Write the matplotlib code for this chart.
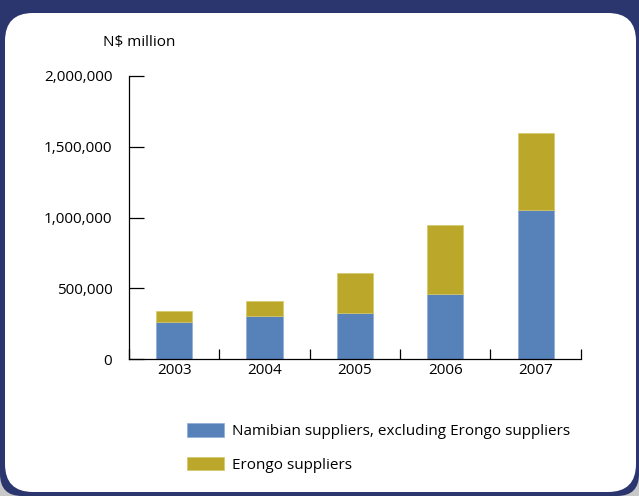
import matplotlib.pyplot as plt
from matplotlib.patches import FancyBboxPatch, Patch
from matplotlib.ticker import FuncFormatter, FixedLocator
import numpy as np

plt.rcParams['font.family'] = ['Open Sans', 'DejaVu Sans']

years = ["2003", "2004", "2005", "2006", "2007"]
namibian = [260000, 308000, 329000, 459000, 1056000]
erongo = [79000, 101000, 280000, 489000, 539000]

blue = "#5781b9"
gold = "#bba82b"
navy = "#2b366e"

fig = plt.figure(figsize=(6.39, 4.96), dpi=100, facecolor="#c8c8c8")

# navy frame and white rounded panel (inch units)
frame = FancyBboxPatch((0.0, 0.0), 6.39, 5.6,
                       boxstyle="round,pad=0,rounding_size=0.22",
                       transform=fig.dpi_scale_trans, facecolor=navy,
                       edgecolor="none", zorder=-6)
panel = FancyBboxPatch((0.05, 0.04), 6.31, 4.79,
                       boxstyle="round,pad=0,rounding_size=0.28",
                       transform=fig.dpi_scale_trans, facecolor="white",
                       edgecolor="none", zorder=-5)
fig.patches.extend([frame, panel])

ax = fig.add_axes([0.2019, 0.2756, 0.7071, 0.5712])
ax.set_facecolor("none")

x = np.arange(len(years))
ax.bar(x, namibian, width=0.4, color=blue, edgecolor="#8fadd6", linewidth=0.5)
ax.bar(x, erongo, width=0.4, bottom=namibian, color=gold, edgecolor="#d6c866", linewidth=0.5)

ax.set_xlim(-0.5, len(years) - 0.5)
ax.set_ylim(0, 2000000)
ax.set_yticks([0, 500000, 1000000, 1500000, 2000000])
ax.yaxis.set_major_formatter(FuncFormatter(lambda v, p: f"{int(v):,}"))

ax.set_xticks(x)
ax.set_xticklabels(years)
ax.xaxis.set_minor_locator(FixedLocator(np.arange(-0.5, len(years), 1.0)))
ax.tick_params(axis="x", which="major", length=0, labelsize=11, pad=3)
ax.tick_params(axis="x", which="minor", direction="in", length=7, width=0.9)
ax.tick_params(axis="y", direction="in", length=11, width=0.9, labelsize=11, pad=12)

for s in ["top", "right"]:
    ax.spines[s].set_visible(False)
for s in ["left", "bottom"]:
    ax.spines[s].set_linewidth(0.9)

fig.text(0.161, 0.915, "N$ million", fontsize=11, va="center", ha="left")

handles = [Patch(facecolor=blue, edgecolor="#8fadd6", linewidth=0.5),
           Patch(facecolor=gold, edgecolor="#d6c866", linewidth=0.5)]
fig.legend(handles, ["Namibian suppliers, excluding Erongo suppliers", "Erongo suppliers"],
           loc="upper left", bbox_to_anchor=(0.292, 0.147), frameon=False,
           fontsize=11, handlelength=2.45, handleheight=1.0, handletextpad=0.5,
           labelspacing=1.15, borderaxespad=0, borderpad=0)

fig.savefig("out.png", dpi=100, facecolor=fig.get_facecolor())
